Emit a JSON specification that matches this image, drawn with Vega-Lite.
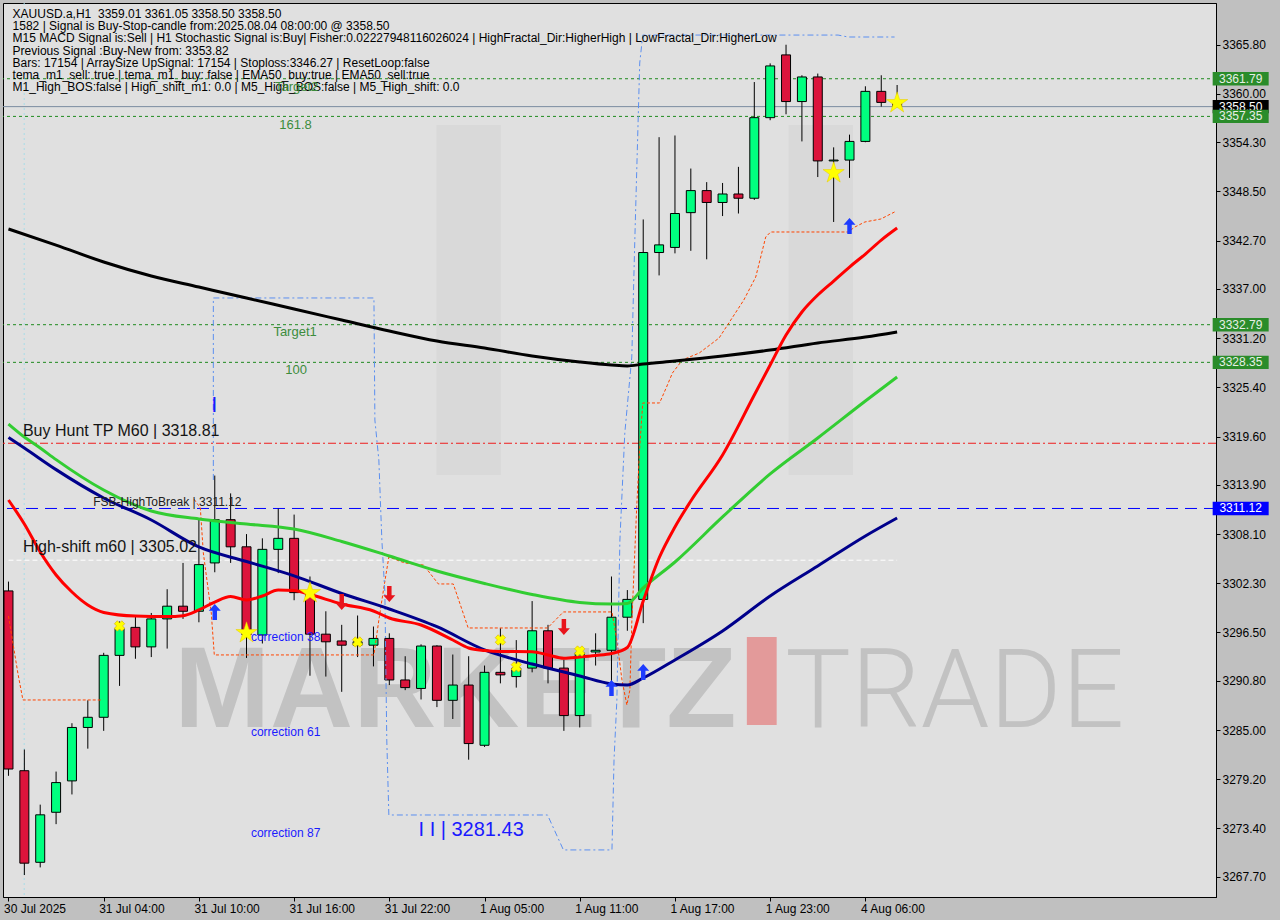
{
"$schema": "https://vega.github.io/schema/vega-lite/v6.json",
"width": 1213, "height": 894,
"autosize": {"type": "none"},
"padding": {"left": 3, "top": 3, "right": 64, "bottom": 23},
"background": "#c0c0c0",
"config": {"view": {"fill": "#e0e0e0", "stroke": "#000000", "strokeWidth": 1}, "font": "Liberation Sans"},
"datasets": {
"one": [{}],
"candles": [
{"i":0,"o":3301.4,"h":3302.5,"l":3279.6,"c":3280.4},
{"i":1,"o":3280.2,"h":3282.7,"l":3267.9,"c":3269.3},
{"i":2,"o":3269.4,"h":3276.2,"l":3268.8,"c":3275.0},
{"i":3,"o":3275.3,"h":3280.1,"l":3273.9,"c":3278.8},
{"i":4,"o":3279.0,"h":3285.8,"l":3277.4,"c":3285.3},
{"i":5,"o":3285.3,"h":3288.5,"l":3282.8,"c":3286.5},
{"i":6,"o":3286.5,"h":3294.1,"l":3284.9,"c":3293.8},
{"i":7,"o":3293.8,"h":3297.8,"l":3290.2,"c":3297.0},
{"i":8,"o":3297.1,"h":3298.5,"l":3293.4,"c":3294.8},
{"i":9,"o":3294.8,"h":3298.8,"l":3293.6,"c":3298.1},
{"i":10,"o":3298.1,"h":3301.6,"l":3294.6,"c":3299.6},
{"i":11,"o":3299.6,"h":3304.7,"l":3298.1,"c":3299.0},
{"i":12,"o":3299.0,"h":3309.8,"l":3297.7,"c":3304.5},
{"i":13,"o":3304.7,"h":3315.0,"l":3303.6,"c":3309.8},
{"i":14,"o":3309.8,"h":3312.9,"l":3304.7,"c":3306.6},
{"i":15,"o":3306.6,"h":3308.1,"l":3293.5,"c":3296.2},
{"i":16,"o":3296.2,"h":3307.6,"l":3295.2,"c":3306.3},
{"i":17,"o":3306.3,"h":3311.1,"l":3303.5,"c":3307.6},
{"i":18,"o":3307.6,"h":3310.4,"l":3300.3,"c":3301.2},
{"i":19,"o":3301.1,"h":3303.1,"l":3291.4,"c":3296.3},
{"i":20,"o":3296.3,"h":3299.0,"l":3291.3,"c":3295.4},
{"i":21,"o":3295.5,"h":3297.4,"l":3289.5,"c":3295.0},
{"i":22,"o":3295.0,"h":3298.5,"l":3293.6,"c":3295.4},
{"i":23,"o":3295.0,"h":3297.2,"l":3292.5,"c":3295.8},
{"i":24,"o":3295.8,"h":3296.4,"l":3290.3,"c":3290.9},
{"i":25,"o":3290.9,"h":3293.7,"l":3289.7,"c":3290.0},
{"i":26,"o":3289.9,"h":3295.1,"l":3288.6,"c":3294.9},
{"i":27,"o":3294.9,"h":3295.0,"l":3287.7,"c":3288.5},
{"i":28,"o":3288.5,"h":3293.9,"l":3286.3,"c":3290.3},
{"i":29,"o":3290.3,"h":3293.7,"l":3281.5,"c":3283.4},
{"i":30,"o":3283.2,"h":3292.6,"l":3283.0,"c":3291.8},
{"i":31,"o":3291.8,"h":3297.0,"l":3290.5,"c":3291.5},
{"i":32,"o":3291.3,"h":3295.6,"l":3290.0,"c":3292.3},
{"i":33,"o":3292.3,"h":3300.2,"l":3291.8,"c":3296.7},
{"i":34,"o":3296.7,"h":3297.4,"l":3290.5,"c":3292.3},
{"i":35,"o":3292.3,"h":3293.3,"l":3284.9,"c":3286.7},
{"i":36,"o":3286.7,"h":3294.5,"l":3285.3,"c":3294.1},
{"i":37,"o":3294.2,"h":3296.4,"l":3292.6,"c":3294.4},
{"i":38,"o":3294.4,"h":3303.1,"l":3290.1,"c":3298.3},
{"i":39,"o":3298.3,"h":3301.5,"l":3296.7,"c":3300.4},
{"i":40,"o":3300.4,"h":3345.2,"l":3297.6,"c":3341.3},
{"i":41,"o":3341.3,"h":3354.9,"l":3338.6,"c":3342.2},
{"i":42,"o":3341.9,"h":3355.1,"l":3341.2,"c":3345.9},
{"i":43,"o":3346.0,"h":3351.2,"l":3341.5,"c":3348.6},
{"i":44,"o":3348.6,"h":3349.6,"l":3340.5,"c":3347.2},
{"i":45,"o":3347.2,"h":3349.5,"l":3345.6,"c":3348.2},
{"i":46,"o":3348.2,"h":3351.4,"l":3345.9,"c":3347.7},
{"i":47,"o":3347.7,"h":3361.4,"l":3347.5,"c":3357.2},
{"i":48,"o":3357.2,"h":3363.6,"l":3356.9,"c":3363.3},
{"i":49,"o":3364.6,"h":3365.8,"l":3357.6,"c":3359.1},
{"i":50,"o":3359.1,"h":3362.2,"l":3354.4,"c":3362.0},
{"i":51,"o":3362.0,"h":3362.4,"l":3350.2,"c":3352.1},
{"i":52,"o":3352.1,"h":3353.7,"l":3344.9,"c":3352.2},
{"i":53,"o":3352.2,"h":3355.2,"l":3350.1,"c":3354.4},
{"i":54,"o":3354.4,"h":3360.9,"l":3354.3,"c":3360.3},
{"i":55,"o":3360.3,"h":3362.2,"l":3358.5,"c":3359.0},
{"i":56,"o":3359.01,"h":3361.05,"l":3358.5,"c":3358.5}
],
"ma": [
{"ma":"m200","i":0,"v":3344.07},{"ma":"m200","i":3,"v":3342.18},{"ma":"m200","i":6,"v":3340.18},{"ma":"m200","i":9,"v":3338.53},{"ma":"m200","i":12,"v":3337.23},{"ma":"m200","i":15,"v":3335.93},{"ma":"m200","i":18,"v":3334.64},{"ma":"m200","i":21,"v":3333.34},{"ma":"m200","i":24,"v":3332.04},{"ma":"m200","i":27,"v":3330.86},{"ma":"m200","i":30,"v":3330.03},{"ma":"m200","i":33,"v":3329.1},{"ma":"m200","i":36,"v":3328.39},{"ma":"m200","i":38,"v":3328.03},{"ma":"m200","i":39,"v":3327.92},{"ma":"m200","i":40,"v":3328.15},{"ma":"m200","i":42,"v":3328.51},{"ma":"m200","i":45,"v":3329.1},{"ma":"m200","i":48,"v":3329.8},{"ma":"m200","i":51,"v":3330.63},{"ma":"m200","i":54,"v":3331.33},{"ma":"m200","i":56,"v":3331.93},
{"ma":"m50","i":0,"v":3321.08},{"ma":"m50","i":1,"v":3319.55},{"ma":"m50","i":2,"v":3318.25},{"ma":"m50","i":3,"v":3316.88},{"ma":"m50","i":6,"v":3313.3},{"ma":"m50","i":9,"v":3310.82},{"ma":"m50","i":12,"v":3309.88},{"ma":"m50","i":15,"v":3309.29},{"ma":"m50","i":18,"v":3308.7},{"ma":"m50","i":21,"v":3307.23},{"ma":"m50","i":24,"v":3305.52},{"ma":"m50","i":27,"v":3303.75},{"ma":"m50","i":30,"v":3302.28},{"ma":"m50","i":33,"v":3300.98},{"ma":"m50","i":36,"v":3300.04},{"ma":"m50","i":38,"v":3299.86},{"ma":"m50","i":39,"v":3299.92},{"ma":"m50","i":40,"v":3301.75},{"ma":"m50","i":42,"v":3304.81},{"ma":"m50","i":45,"v":3310.12},{"ma":"m50","i":48,"v":3315.19},{"ma":"m50","i":51,"v":3319.43},{"ma":"m50","i":54,"v":3323.79},{"ma":"m50","i":56,"v":3326.62},
{"ma":"ema","i":0,"v":3319.49},{"ma":"ema","i":1,"v":3318.25},{"ma":"ema","i":3,"v":3315.7},{"ma":"ema","i":6,"v":3312.36},{"ma":"ema","i":9,"v":3309.76},{"ma":"ema","i":12,"v":3306.58},{"ma":"ema","i":15,"v":3304.87},{"ma":"ema","i":18,"v":3303.18},{"ma":"ema","i":21,"v":3301.1},{"ma":"ema","i":24,"v":3299.27},{"ma":"ema","i":27,"v":3297.18},{"ma":"ema","i":30,"v":3294.44},{"ma":"ema","i":33,"v":3292.78},{"ma":"ema","i":36,"v":3291.37},{"ma":"ema","i":38,"v":3290.43},{"ma":"ema","i":39,"v":3290.31},{"ma":"ema","i":40,"v":3291.13},{"ma":"ema","i":42,"v":3293.26},{"ma":"ema","i":45,"v":3296.68},{"ma":"ema","i":48,"v":3300.8},{"ma":"ema","i":51,"v":3304.34},{"ma":"ema","i":54,"v":3307.88},{"ma":"ema","i":56,"v":3310.0},
{"ma":"fast","i":0,"v":3312.12},{"ma":"fast","i":1,"v":3309.29},{"ma":"fast","i":2,"v":3305.99},{"ma":"fast","i":3,"v":3303.28},{"ma":"fast","i":4,"v":3301.27},{"ma":"fast","i":5,"v":3299.74},{"ma":"fast","i":6,"v":3298.86},{"ma":"fast","i":8,"v":3298.44},{"ma":"fast","i":10,"v":3298.38},{"ma":"fast","i":11,"v":3298.48},{"ma":"fast","i":12,"v":3299.15},{"ma":"fast","i":13,"v":3300.09},{"ma":"fast","i":14,"v":3300.74},{"ma":"fast","i":15,"v":3300.33},{"ma":"fast","i":16,"v":3300.8},{"ma":"fast","i":17,"v":3301.51},{"ma":"fast","i":18,"v":3301.45},{"ma":"fast","i":19,"v":3300.98},{"ma":"fast","i":21,"v":3299.86},{"ma":"fast","i":23,"v":3299.03},{"ma":"fast","i":24,"v":3298.21},{"ma":"fast","i":26,"v":3297.38},{"ma":"fast","i":28,"v":3295.61},{"ma":"fast","i":29,"v":3294.67},{"ma":"fast","i":30,"v":3294.38},{"ma":"fast","i":31,"v":3294.26},{"ma":"fast","i":33,"v":3294.24},{"ma":"fast","i":34,"v":3293.85},{"ma":"fast","i":35,"v":3293.46},{"ma":"fast","i":36,"v":3293.61},{"ma":"fast","i":37,"v":3293.79},{"ma":"fast","i":38,"v":3294.02},{"ma":"fast","i":39,"v":3294.73},{"ma":"fast","i":40,"v":3300.21},{"ma":"fast","i":41,"v":3305.28},{"ma":"fast","i":42,"v":3308.94},{"ma":"fast","i":43,"v":3312.0},{"ma":"fast","i":45,"v":3317.43},{"ma":"fast","i":47,"v":3324.5},{"ma":"fast","i":48,"v":3328.04},{"ma":"fast","i":49,"v":3331.57},{"ma":"fast","i":50,"v":3334.29},{"ma":"fast","i":51,"v":3336.29},{"ma":"fast","i":52,"v":3337.94},{"ma":"fast","i":53,"v":3339.59},{"ma":"fast","i":54,"v":3341.12},{"ma":"fast","i":55,"v":3342.77},{"ma":"fast","i":56,"v":3344.19}
],
"orange": [
{"seg":"a","k":0,"i":0,"v":3298.44},{"seg":"a","k":1,"i":0.59,"v":3291.72},{"seg":"a","k":2,"i":0.91,"v":3288.54},{"seg":"a","k":3,"i":5.91,"v":3288.54},
{"seg":"b","k":0,"i":11.7,"v":3312.2},{"seg":"b","k":1,"i":12.09,"v":3311.18},{"seg":"b","k":2,"i":12.28,"v":3305.87},{"seg":"b","k":3,"i":12.78,"v":3298.8},{"seg":"b","k":4,"i":12.97,"v":3293.85},{"seg":"b","k":5,"i":23.03,"v":3293.85},{"seg":"b","k":6,"i":23.34,"v":3297.97},{"seg":"b","k":7,"i":23.66,"v":3301.86},{"seg":"b","k":8,"i":23.97,"v":3305.4},{"seg":"b","k":9,"i":24.97,"v":3304.69},{"seg":"b","k":10,"i":26.16,"v":3304.45},{"seg":"b","k":11,"i":27.09,"v":3302.22},{"seg":"b","k":12,"i":28.03,"v":3302.22},{"seg":"b","k":13,"i":28.97,"v":3297.03},{"seg":"b","k":14,"i":33.97,"v":3297.03},{"seg":"b","k":15,"i":34.97,"v":3298.92},{"seg":"b","k":16,"i":38.03,"v":3298.92},{"seg":"b","k":17,"i":38.34,"v":3295.61},{"seg":"b","k":18,"i":38.66,"v":3290.9},{"seg":"b","k":19,"i":38.97,"v":3287.95},{"seg":"b","k":20,"i":39.16,"v":3289.72},{"seg":"b","k":21,"i":39.28,"v":3297.62},{"seg":"b","k":22,"i":39.59,"v":3311.3},{"seg":"b","k":23,"i":39.78,"v":3318.37},{"seg":"b","k":24,"i":39.97,"v":3323.56},{"seg":"b","k":25,"i":41.03,"v":3323.56},{"seg":"b","k":26,"i":41.47,"v":3325.44},{"seg":"b","k":27,"i":41.84,"v":3327.09},{"seg":"b","k":28,"i":42.47,"v":3328.63},{"seg":"b","k":29,"i":43.53,"v":3329.45},{"seg":"b","k":30,"i":44.78,"v":3331.22},{"seg":"b","k":31,"i":46.34,"v":3335.7},{"seg":"b","k":32,"i":47.09,"v":3338.41},{"seg":"b","k":33,"i":47.72,"v":3343.13},{"seg":"b","k":34,"i":48.03,"v":3343.72},{"seg":"b","k":35,"i":52.91,"v":3343.72},{"seg":"b","k":36,"i":53.34,"v":3344.31},{"seg":"b","k":37,"i":53.97,"v":3344.9},{"seg":"b","k":38,"i":54.97,"v":3345.25},{"seg":"b","k":39,"i":55.84,"v":3346.08}
],
"bluepath": [
{"k":0,"i":12.91,"v":3314.48},{"k":1,"i":12.91,"v":3335.94},{"k":2,"i":23.03,"v":3335.94},{"k":3,"i":23.09,"v":3321.55},{"k":4,"i":23.34,"v":3316.84},{"k":5,"i":23.53,"v":3307.4},{"k":6,"i":23.72,"v":3301.16},{"k":7,"i":23.84,"v":3283.82},{"k":8,"i":23.97,"v":3274.98},{"k":9,"i":33.97,"v":3274.98},{"k":10,"i":34.97,"v":3270.86},{"k":11,"i":38.03,"v":3270.86},{"k":12,"i":38.16,"v":3281.47},{"k":13,"i":38.34,"v":3288.54},{"k":14,"i":38.53,"v":3307.4},{"k":15,"i":38.84,"v":3320.02},{"k":16,"i":39.28,"v":3328.98},{"k":17,"i":39.47,"v":3342.77},{"k":18,"i":39.78,"v":3363.64},{"k":19,"i":39.97,"v":3366.94},{"k":20,"i":52.28,"v":3366.94},{"k":21,"i":52.91,"v":3366.71},{"k":22,"i":55.84,"v":3366.71}
],
"stars": [{"i":15,"price":3296.44},{"i":19,"price":3301.16},{"i":52,"price":3350.67},{"i":56,"price":3358.93}],
"crosses": [{"i":7,"price":3297.27},{"i":22,"price":3295.38},{"i":31,"price":3295.62},{"i":32,"price":3292.44},{"i":36,"price":3294.31}],
"uparrows": [{"i":13,"price":3298.92},{"i":38,"price":3289.96},{"i":40,"price":3291.84},{"i":53,"price":3344.42}],
"downarrows": [{"i":21,"price":3300.09},{"i":24,"price":3301.04},{"i":35,"price":3297.15}],
"levels": [{"price":3361.79},{"price":3357.35},{"price":3332.79},{"price":3328.35}],
"darkboxes": [{"price":3358.5},{"price":3311.12}],
"greenboxes": [{"price":3361.79},{"price":3357.35},{"price":3332.79},{"price":3328.35}],
"bigtext": [{"i":0.91,"price":3320.25,"t":"Buy Hunt TP M60 | 3318.81"},{"i":0.91,"price":3306.52,"t":"High-shift m60 | 3305.02"}],
"greentext": [{"i":18.16,"price":3360.85,"t":"Target2"},{"i":18.09,"price":3356.33,"t":"161.8"},{"i":18.06,"price":3331.93,"t":"Target1"},{"i":18.13,"price":3327.45,"t":"100"}],
"bluetext": [{"i":15.28,"price":3295.91,"t":"correction 38"},{"i":15.28,"price":3284.8,"t":"correction 61"},{"i":15.28,"price":3272.86,"t":"correction 87"}]
},
"layer": [
{"data": {"name": "candles"}, "mark": {"type": "rule", "color": "#000000", "strokeWidth": 1, "opacity": 0},
 "encoding": {
  "x": {"field": "i", "type": "quantitative", "scale": {"domain": [-0.03, 75.78], "nice": false, "zero": false}, "axis": {"orient": "bottom", "title": null, "values": [0, 6, 12, 18, 24, 30, 36, 42, 48, 54], "labelExpr": "['30 Jul 2025','31 Jul 04:00','31 Jul 10:00','31 Jul 16:00','31 Jul 22:00','1 Aug 05:00','1 Aug 11:00','1 Aug 17:00','1 Aug 23:00','4 Aug 06:00'][round(datum.value/6)]", "labelAlign": "left", "labelBaseline": "top", "labelOffset": -5, "labelFont": "Liberation Sans", "labelFontSize": 12, "labelColor": "#000000", "labelPadding": 2, "labelOverlap": false, "labelFlush": false, "labelBound": false, "tickColor": "#000000", "tickSize": 4, "domainColor": "#000000", "grid": false}},
  "y": {"field": "l", "type": "quantitative", "scale": {"domain": [3265.31, 3370.72], "nice": false, "zero": false}, "axis": {"orient": "right", "title": null, "values": [3365.8, 3360, 3354.3, 3348.5, 3342.7, 3337, 3331.2, 3325.4, 3319.6, 3313.9, 3308.1, 3302.3, 3296.5, 3290.8, 3285, 3279.2, 3273.4, 3267.7], "format": ".2f", "labelFont": "Liberation Sans", "labelFontSize": 12, "labelColor": "#000000", "labelPadding": 2, "labelOverlap": false, "labelFlush": false, "labelBound": false, "tickColor": "#000000", "tickSize": 4, "domainColor": "#000000", "grid": false}},
  "y2": {"field": "h"}}},
{"data": {"name": "one"}, "mark": {"type": "rect", "color": "#d9d9d9"},
 "encoding": {"x": {"datum": 26.97, "type": "quantitative"}, "x2": {"datum": 31.03}, "y": {"datum": 3315.07, "type": "quantitative"}, "y2": {"datum": 3356.33}}},
{"data": {"name": "one"}, "mark": {"type": "rect", "color": "#d9d9d9"},
 "encoding": {"x": {"datum": 49.16, "type": "quantitative"}, "x2": {"datum": 53.22}, "y": {"datum": 3315.07, "type": "quantitative"}, "y2": {"datum": 3356.33}}},
{"data": {"name": "one"}, "mark": {"type": "text", "text": "MARKETZ", "align": "left", "baseline": "alphabetic", "fontSize": 115, "fontWeight": "bold", "font": "Liberation Sans", "color": "#c2c2c2"},
 "encoding": {"x": {"datum": 10.45, "type": "quantitative"}, "y": {"datum": 3285.36, "type": "quantitative"}}},
{"data": {"name": "one"}, "mark": {"type": "text", "text": "TRADE", "align": "left", "baseline": "alphabetic", "fontSize": 110, "fontWeight": 300, "font": "Roboto", "color": "#c2c2c2"},
 "encoding": {"x": {"datum": 48.95, "type": "quantitative"}, "y": {"datum": 3285.36, "type": "quantitative"}}},
{"data": {"name": "one"}, "mark": {"type": "rect", "color": "#e39a9a"},
 "encoding": {"x": {"datum": 46.53, "type": "quantitative"}, "x2": {"datum": 48.41}, "y": {"datum": 3285.59, "type": "quantitative"}, "y2": {"datum": 3295.97}}},
{"data": {"name": "one"}, "mark": {"type": "rule", "color": "#a8dce8", "strokeDash": [2, 3], "strokeWidth": 1},
 "encoding": {"x": {"datum": 0.99, "type": "quantitative"}}},
{"data": {"name": "levels"}, "mark": {"type": "rule", "color": "#1f8a1f", "strokeDash": [3, 3], "strokeWidth": 1},
 "encoding": {"y": {"field": "price", "type": "quantitative"}}},
{"data": {"name": "one"}, "mark": {"type": "rule", "color": "#7b8ca0", "strokeWidth": 1},
 "encoding": {"y": {"datum": 3358.5, "type": "quantitative"}}},
{"data": {"name": "one"}, "mark": {"type": "rule", "color": "#ee1c1c", "strokeDash": [8, 3, 2, 3], "strokeWidth": 1},
 "encoding": {"y": {"datum": 3318.81, "type": "quantitative"}}},
{"data": {"name": "one"}, "mark": {"type": "rule", "color": "#0000ff", "strokeDash": [12, 7], "strokeWidth": 1},
 "encoding": {"y": {"datum": 3311.12, "type": "quantitative"}}},
{"data": {"name": "one"}, "mark": {"type": "rule", "color": "#ffffff", "strokeDash": [5, 3], "strokeWidth": 1},
 "encoding": {"x": {"datum": 0, "type": "quantitative"}, "x2": {"datum": 56}, "y": {"datum": 3305.02, "type": "quantitative"}}},
{"data": {"name": "candles"}, "mark": {"type": "rule", "color": "#000000", "strokeWidth": 1, "clip": true},
 "encoding": {"x": {"field": "i", "type": "quantitative"}, "y": {"field": "l", "type": "quantitative"}, "y2": {"field": "h"}}},
{"data": {"name": "candles"}, "mark": {"type": "bar", "size": 9, "stroke": "#000000", "strokeWidth": 1, "clip": true},
 "encoding": {
  "x": {"field": "i", "type": "quantitative"},
  "y": {"field": "o", "type": "quantitative"},
  "y2": {"field": "c"},
  "fill": {"condition": {"test": "datum.c >= datum.o", "value": "#00ff7f"}, "value": "#dc143c"}}},
{"data": {"name": "orange"}, "mark": {"type": "line", "color": "#ff4500", "strokeDash": [3, 2], "strokeWidth": 1, "clip": true},
 "encoding": {"x": {"field": "i", "type": "quantitative"}, "y": {"field": "v", "type": "quantitative"}, "detail": {"field": "seg"}, "order": {"field": "k"}}},
{"data": {"name": "bluepath"}, "mark": {"type": "line", "color": "#5b8ff0", "strokeDash": [6, 3, 2, 3], "strokeWidth": 1, "clip": true},
 "encoding": {"x": {"field": "i", "type": "quantitative"}, "y": {"field": "v", "type": "quantitative"}, "order": {"field": "k"}}},
{"data": {"name": "ma"}, "mark": {"type": "line", "interpolate": "monotone", "clip": true},
 "encoding": {"x": {"field": "i", "type": "quantitative"}, "y": {"field": "v", "type": "quantitative"},
  "color": {"field": "ma", "type": "nominal", "scale": {"domain": ["m200", "m50", "ema", "fast"], "range": ["#000000", "#32cd32", "#00008b", "#ff0000"]}, "legend": null},
  "strokeWidth": {"field": "ma", "type": "ordinal", "scale": {"domain": ["m200", "m50", "ema", "fast"], "range": [3, 3, 2, 3]}, "legend": null}}},
{"data": {"name": "stars"}, "mark": {"type": "point", "shape": "M0,-1L0.2245,-0.309L0.951,-0.309L0.363,0.118L0.588,0.809L0,0.382L-0.588,0.809L-0.363,0.118L-0.951,-0.309L-0.2245,-0.309Z", "size": 500, "filled": true, "fill": "#ffff00", "stroke": "#e6c800", "strokeWidth": 0.5, "opacity": 1},
 "encoding": {"x": {"field": "i", "type": "quantitative"}, "y": {"field": "price", "type": "quantitative"}}},
{"data": {"name": "crosses"}, "mark": {"type": "point", "shape": "cross", "angle": 45, "size": 110, "filled": true, "fill": "#ffff00", "stroke": "#d8b000", "strokeWidth": 0.6, "opacity": 1},
 "encoding": {"x": {"field": "i", "type": "quantitative"}, "y": {"field": "price", "type": "quantitative"}}},
{"data": {"name": "uparrows"}, "mark": {"type": "point", "shape": "M0,-1L0.75,-0.15L0.28,-0.15L0.28,1L-0.28,1L-0.28,-0.15L-0.75,-0.15Z", "size": 256, "filled": true, "fill": "#1e3cff", "opacity": 1},
 "encoding": {"x": {"field": "i", "type": "quantitative"}, "y": {"field": "price", "type": "quantitative"}}},
{"data": {"name": "downarrows"}, "mark": {"type": "point", "shape": "M0,1L0.75,0.15L0.28,0.15L0.28,-1L-0.28,-1L-0.28,0.15L-0.75,0.15Z", "size": 256, "filled": true, "fill": "#e8141c", "opacity": 1},
 "encoding": {"x": {"field": "i", "type": "quantitative"}, "y": {"field": "price", "type": "quantitative"}}},
{"data": {"name": "one"}, "mark": {"type": "text", "align": "left", "baseline": "top", "fontSize": 12, "font": "Liberation Sans", "color": "#000000", "lineBreak": "\n", "lineHeight": 12.2,
  "text": "\u00a0\u00a0\u00a0\u00a0\u00a0\u00a0XAUUSD.a,H1\u00a0\u00a03359.01 3361.05 3358.50 3358.50\n1582 | Signal is Buy-Stop-candle from:2025.08.04 08:00:00 @ 3358.50\nM15 MACD Signal is:Sell | H1 Stochastic Signal is:Buy| Fisher:0.02227948116026024 | HighFractal_Dir:HigherHigh | LowFractal_Dir:HigherLow\nPrevious Signal :Buy-New from: 3353.82\nBars: 17154 | ArraySize UpSignal: 17154 | Stoploss:3346.27 | ResetLoop:false\ntema_m1_sell: true | tema_m1_buy: false | EMA50_buy:true | EMA50_sell:true\nM1_High_BOS:false | High_shift_m1: 0.0 | M5_High_BOS:false | M5_High_shift: 0.0"},
 "encoding": {"x": {"datum": 0.26, "type": "quantitative"}, "y": {"datum": 3370.0, "type": "quantitative"}}},
{"data": {"name": "greentext"}, "mark": {"type": "text", "align": "center", "baseline": "middle", "fontSize": 13, "font": "Liberation Sans", "color": "#3c8c3c"},
 "encoding": {"x": {"field": "i", "type": "quantitative"}, "y": {"field": "price", "type": "quantitative"}, "text": {"field": "t"}}},
{"data": {"name": "bigtext"}, "mark": {"type": "text", "align": "left", "baseline": "middle", "fontSize": 16, "font": "Liberation Sans", "color": "#141414"},
 "encoding": {"x": {"field": "i", "type": "quantitative"}, "y": {"field": "price", "type": "quantitative"}, "text": {"field": "t"}}},
{"data": {"name": "one"}, "mark": {"type": "text", "text": "FSB-HighToBreak | 3311.12", "align": "left", "baseline": "middle", "fontSize": 12, "font": "Liberation Sans", "color": "#202020"},
 "encoding": {"x": {"datum": 5.34, "type": "quantitative"}, "y": {"datum": 3311.88, "type": "quantitative"}}},
{"data": {"name": "bluetext"}, "mark": {"type": "text", "align": "left", "baseline": "middle", "fontSize": 12, "font": "Liberation Sans", "color": "#1a1aff"},
 "encoding": {"x": {"field": "i", "type": "quantitative"}, "y": {"field": "price", "type": "quantitative"}, "text": {"field": "t"}}},
{"data": {"name": "one"}, "mark": {"type": "text", "text": "I I | 3281.43", "align": "left", "baseline": "middle", "fontSize": 20, "font": "Liberation Sans", "color": "#1a1aff"},
 "encoding": {"x": {"datum": 25.84, "type": "quantitative"}, "y": {"datum": 3273.21, "type": "quantitative"}}},
{"data": {"name": "one"}, "mark": {"type": "text", "text": "I", "align": "center", "baseline": "middle", "fontSize": 22, "font": "Liberation Sans", "color": "#1a1aff"},
 "encoding": {"x": {"datum": 12.97, "type": "quantitative"}, "y": {"datum": 3323.32, "type": "quantitative"}}},
{"data": {"name": "darkboxes"}, "mark": {"type": "point", "shape": "M-1,-0.24L1,-0.24L1,0.24L-1,0.24Z", "size": 3136, "filled": true, "opacity": 1, "strokeWidth": 0},
 "encoding": {"x": {"datum": 77.65, "type": "quantitative"}, "y": {"field": "price", "type": "quantitative"},
  "fill": {"condition": {"test": "datum.price == 3358.5", "value": "#000000"}, "value": "#0000ff"}}},
{"data": {"name": "darkboxes"}, "mark": {"type": "text", "align": "center", "baseline": "middle", "fontSize": 12, "font": "Liberation Sans", "color": "#ffffff"},
 "encoding": {"x": {"datum": 77.65, "type": "quantitative"}, "y": {"field": "price", "type": "quantitative"}, "text": {"field": "price", "type": "quantitative", "format": ".2f"}}},
{"data": {"name": "greenboxes"}, "mark": {"type": "point", "shape": "M-1,-0.24L1,-0.24L1,0.24L-1,0.24Z", "size": 3136, "filled": true, "opacity": 1, "strokeWidth": 0, "fill": "#2a8c2a"},
 "encoding": {"x": {"datum": 77.65, "type": "quantitative"}, "y": {"field": "price", "type": "quantitative"}}},
{"data": {"name": "greenboxes"}, "mark": {"type": "text", "align": "center", "baseline": "middle", "fontSize": 12, "font": "Liberation Sans", "color": "#e6efe6"},
 "encoding": {"x": {"datum": 77.65, "type": "quantitative"}, "y": {"field": "price", "type": "quantitative"}, "text": {"field": "price", "type": "quantitative", "format": ".2f"}}}
]
}
